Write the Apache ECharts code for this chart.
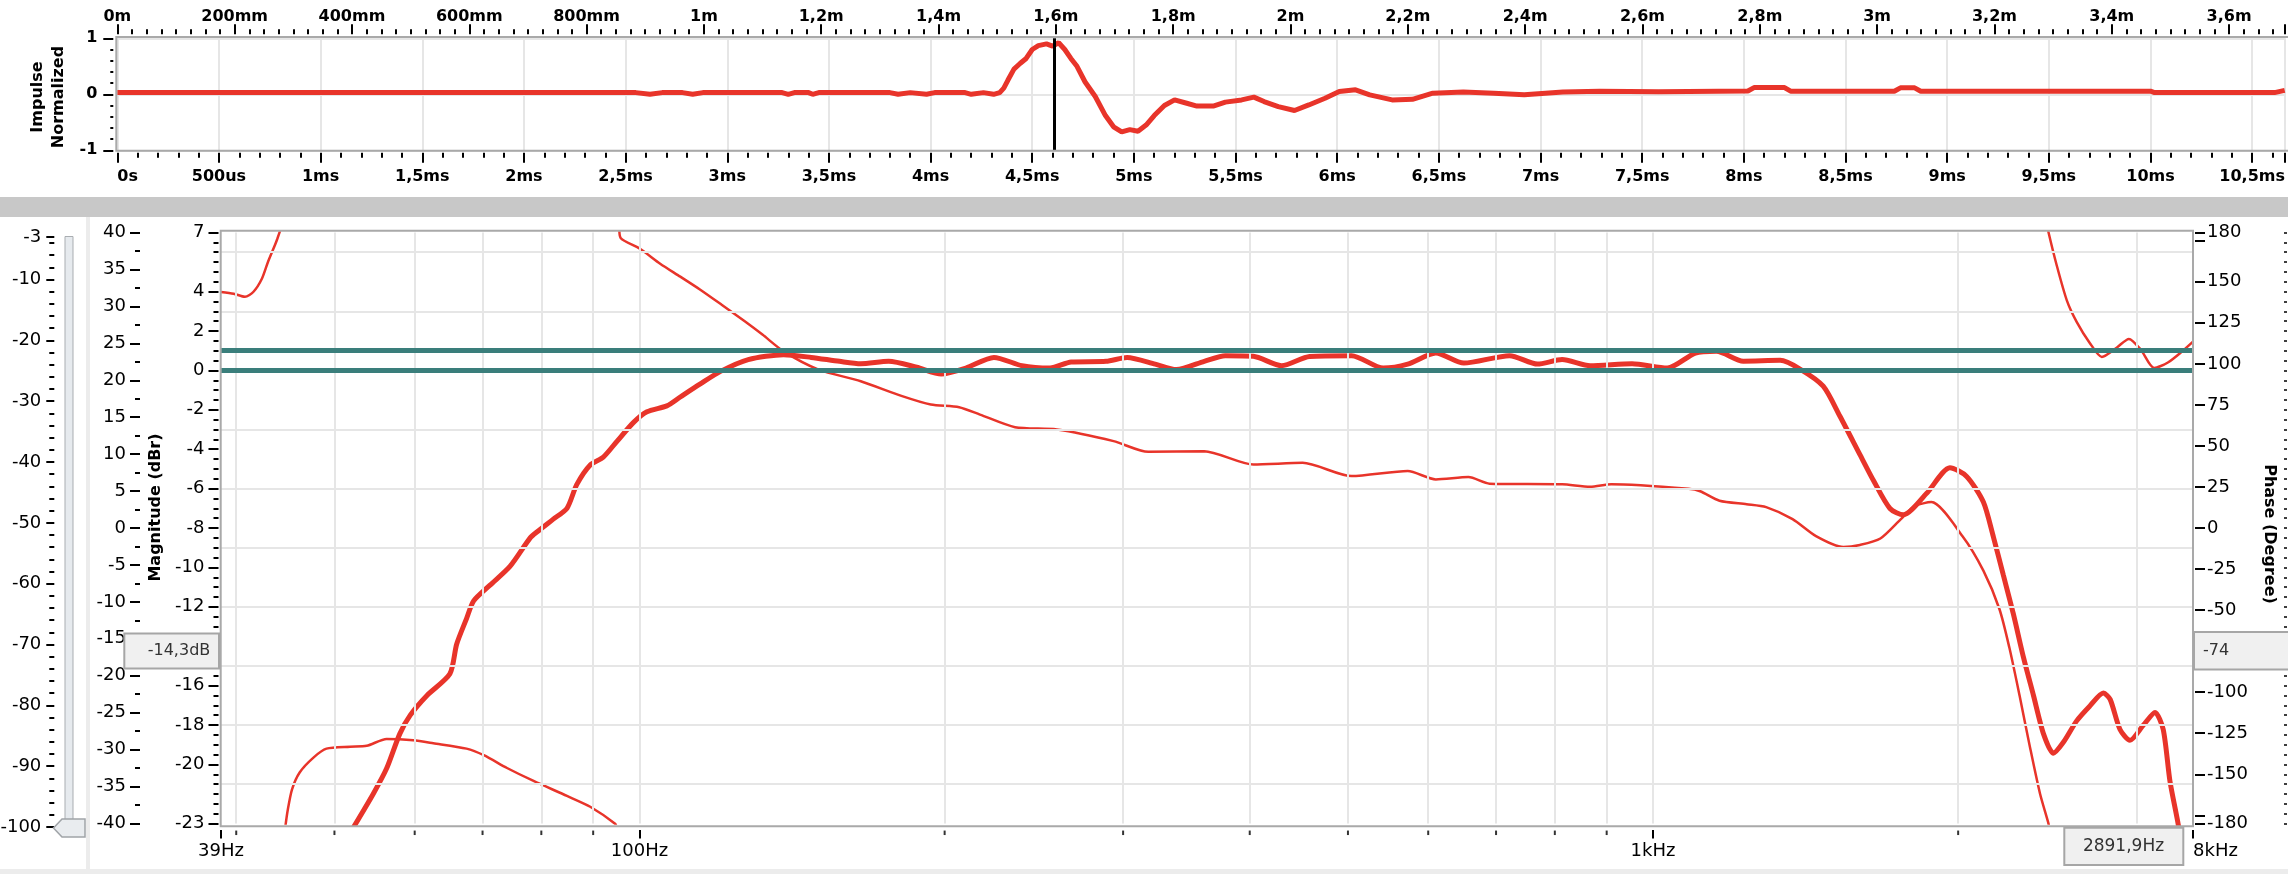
<!DOCTYPE html>
<html><head><meta charset="utf-8">
<script src="https://cdn.jsdelivr.net/npm/echarts@6/dist/echarts.min.js"></script>
<style>html,body{margin:0;padding:0;background:#fff;overflow:hidden}#c{width:2288px;height:874px}</style>
</head><body><div id="c"></div>
<script>
// ---------------- DATA ----------------
const timeMaxMs = 10.662;          // right edge of impulse view
const distMaxM = 3.6955;           // same edge expressed in metres
const markerTimeMs = 4.605;        // cursor at 1,6m

const impulseTimeMs = [
  0, 0.6, 1.2, 1.8, 2.4, 2.55, 2.62, 2.68, 2.78, 2.83,
  2.88, 3.1, 3.27, 3.30, 3.33, 3.40, 3.42, 3.45, 3.8, 3.84,
  3.9, 3.98, 4.02, 4.17, 4.2, 4.26, 4.31, 4.34, 4.36, 4.38,
  4.41, 4.44, 4.47, 4.50, 4.53, 4.57, 4.60, 4.63, 4.66, 4.69,
  4.72, 4.76, 4.81, 4.86, 4.90, 4.94, 4.98, 5.02, 5.06, 5.10,
  5.15, 5.20, 5.26, 5.31, 5.39, 5.45, 5.53, 5.59, 5.64, 5.71,
  5.79, 5.86, 5.94, 6.01, 6.09, 6.16, 6.27, 6.37, 6.47, 6.62,
  6.77, 6.92, 7.11, 7.29, 7.58, 8.02, 8.05, 8.20, 8.23, 8.74,
  8.77, 8.84, 8.87, 10.0, 10.02, 10.61, 10.66
];
const impulseValue = [
  0.03, 0.03, 0.03, 0.03, 0.03, 0.03, 0.0, 0.03, 0.03, 0.0,
  0.03, 0.03, 0.03, 0.0, 0.03, 0.03, 0.0, 0.03, 0.03, 0.0,
  0.03, 0.0, 0.03, 0.03, 0.0, 0.03, 0.0, 0.03, 0.11, 0.25,
  0.45, 0.55, 0.64, 0.80, 0.87, 0.90, 0.86, 0.92, 0.80, 0.64,
  0.50, 0.22, -0.04, -0.38, -0.58, -0.67, -0.63, -0.66, -0.55, -0.38,
  -0.20, -0.10, -0.16, -0.21, -0.21, -0.14, -0.10, -0.05, -0.13, -0.22,
  -0.29, -0.19, -0.07, 0.05, 0.08, -0.01, -0.10, -0.09, 0.02, 0.04,
  0.02, -0.01, 0.04, 0.055, 0.045, 0.06, 0.12, 0.12, 0.055, 0.055,
  0.115, 0.115, 0.055, 0.055, 0.03, 0.03, 0.07
];

const freqMinHz = 38.64;
const freqMaxHz = 3410;
const freqLabelValues = [38.64, 100, 1000, 3410];
const freqLabelText = ['39Hz', '100Hz', '1kHz', '8kHz'];
const freqMinorTicks = [40, 50, 60, 70, 80, 90, 200, 300, 400, 500, 600, 700, 800, 900, 2000, 3000];
const freqGridLines = [40, 50, 60, 70, 80, 90, 100, 200, 300, 400, 500, 600, 700, 800, 900, 1000, 2000, 3000];
const magGridLines = [6, 3, 0, -3, -6, -9, -12, -15, -18, -21];
const magTickValues = [7, 4, 2, 0, -2, -4, -6, -8, -10, -12, -14, -16, -18, -20, -23];
const phaseLabelValues = [180, 150, 125, 100, 75, 50, 25, 0, -25, -50, -75, -100, -125, -150, -180];
const phaseTickValues = [180, 175, 150, 125, 100, 75, 50, 25, 0, -25, -50, -75, -100, -125, -150, -175, -180];
const toleranceDb = [0, 1];

const magFreqHz = [
  52.2, 54.6, 56.3, 58.0, 59.4, 61.7, 65.0, 66.0, 67.5, 68.6,
  71.2, 74.5, 78.0, 79.2, 82.2, 84.8, 86.7, 89.4, 92.1, 95.0,
  98.6, 101.7, 106.4, 109.7, 114.7, 120.2, 128.0, 138.7, 147.7, 157.5,
  165.3, 176.1, 187.7, 198.5, 209.9, 223.7, 238.4, 254.1, 266.6, 288.6,
  302.7, 322.7, 338.5, 360.7, 378.4, 403.3, 430.0, 458.3, 504.2, 541.7,
  572.7, 610.5, 650.6, 721.8, 769.1, 813.3, 866.9, 953.4, 1032.8, 1100.7,
  1154.7, 1227.5, 1334.8, 1396.4, 1472, 1529, 1600.5, 1650, 1713, 1766,
  1862, 1963, 2039, 2118, 2166, 2216, 2267, 2319, 2373, 2428,
  2483, 2540, 2618, 2698, 2782, 2825, 2889, 2955, 3046, 3128,
  3187, 3236, 3297, 3330
];
const magDb = [
  -23.2, -21.5, -20.2, -18.45, -17.5, -16.5, -15.4, -13.9, -12.6, -11.7,
  -10.9, -9.95, -8.5, -8.2, -7.55, -7.0, -5.8, -4.8, -4.4, -3.6,
  -2.65, -2.1, -1.8, -1.35, -0.7, -0.05, 0.55, 0.8, 0.66, 0.46,
  0.34, 0.46, 0.16, -0.18, 0.12, 0.66, 0.24, 0.12, 0.43, 0.46,
  0.66, 0.32, 0.04, 0.46, 0.75, 0.72, 0.24, 0.71, 0.75, 0.12,
  0.32, 0.88, 0.37, 0.75, 0.32, 0.55, 0.24, 0.34, 0.12, 0.88,
  0.97, 0.47, 0.51, 0.07, -0.8, -2.33, -4.29, -5.59, -7.01, -7.33,
  -6.24, -4.94, -5.38, -6.68, -8.42, -10.38, -12.35, -14.53, -16.49, -18.45,
  -19.43, -18.88, -17.79, -17.03, -16.38, -16.7, -18.23, -18.78, -18.01, -17.36,
  -18.23, -20.85, -23.03, -24.5
];

// phase, split where it wraps at +/-180
const phaseLowFreqHz = [38.64, 39.77, 40.8, 41.6, 42.4, 43.0, 43.7, 43.9, 44.3];
const phaseLowDeg = [143.8, 142.7, 140.8, 143.9, 151.8, 162.2, 172.7, 175.9, 183];
const phaseMidFreqHz = [44.7, 44.95, 45.4, 46.2, 47.7, 49.1, 51.8, 53.8, 56.3, 59.8, 62.6, 67.5, 70.2, 74.0, 78.6, 84.8, 89.4, 94.6, 95.0];
const phaseMidDeg = [-183, -172.4, -159.3, -148.9, -139.7, -134.4, -133.2, -132.7, -128.5, -129.3, -131.1, -134.4, -138.4, -146.2, -154.1, -163.2, -169.8, -180.2, -183];
const phaseMainFreqHz = [
  95.5, 95.8, 100.1, 104.8, 109.7, 114.7, 120.5, 127.0, 132.2, 138.7,
  150.2, 165.3, 181.6, 193.8, 206.7, 216.7, 234.7, 258.0, 293.6, 317.7,
  360.7, 403.3, 451.1, 504.2, 572.7, 610.5, 657.4, 689.8, 813.3, 866.9,
  909.6, 1084, 1113, 1163, 1237, 1293, 1373, 1448, 1541, 1600,
  1676, 1756, 1812, 1882, 2020, 2118, 2197, 2247, 2299, 2354,
  2409, 2456, 2462
];
const phaseMainDeg = [
  183, 176.7, 170.1, 161.0, 153.1, 145.3, 136.0, 125.9, 117.8, 107.6,
  96.5, 89.4, 80.3, 75.2, 73.6, 69.1, 61.4, 60.0, 52.9, 46.4,
  46.8, 38.7, 39.7, 31.6, 34.7, 29.6, 31.0, 27.0, 26.6, 25.1,
  26.6, 23.9, 22.4, 16.6, 14.5, 12.7, 5.4, -5.0, -11.6, -10.3,
  -6.4, 5.4, 13.3, 15.8, -5.0, -26.0, -49.5, -73.0, -101.8, -133.2,
  -161.9, -180.2, -184
];
const phaseHighFreqHz = [2450, 2456, 2503, 2560, 2618, 2698, 2772, 2869, 2948, 3028, 3122, 3221, 3323, 3410];
const phaseHighDeg = [184, 180, 159.6, 138.7, 125.6, 112.6, 104.2, 110, 115.2, 108.7, 97.4, 100.8, 107.3, 113.5];

const sliderMin = -100, sliderMax = -3;
const readoutMag = '-14,3dB';
const readoutPhase = '-74';
const readoutFreq = '2891,9Hz';

// ---------------- STYLE ----------------
const FONT = 'DejaVu Sans';
const RED = '#e8342a';
const TEAL = '#3a7e7b';
const GRIDC = '#e6e6e6';
const FRAME = '#a9a9a9';
const TICK = { color: '#000', width: 2 };

const pairs = (xs, ys) => xs.map((x, i) => [x, ys[i]]);
const lab = extra => Object.assign({ color: '#000', fontFamily: FONT, fontSize: 18 }, extra || {});

const fmtTime = v => {
  const r = Math.round(v * 10) / 10;
  if (Math.abs(v - r) > 1e-6) return '';
  if (r === 0) return '0s';
  if (r < 1) return Math.round(r * 1000) + 'us';
  return String(r).replace('.', ',') + 'ms';
};
const fmtDist = v => {
  const mm = Math.round(v * 1000);
  if (Math.abs(v * 1000 - mm) > 0.01) return '';
  if (mm === 0) return '0m';
  if (mm < 1000) return mm + 'mm';
  return String(mm / 1000).replace('.', ',') + 'm';
};
const fmtFreq = v => {
  for (let i = 0; i < freqLabelValues.length; i++) {
    if (Math.abs(Math.log10(v) - Math.log10(freqLabelValues[i])) < 0.003) return freqLabelText[i];
  }
  return '';
};

const chart = echarts.init(document.getElementById('c'), null, { renderer: 'canvas' });

const hiddenMark = (data, style, z) => ({
  type: 'line', data: [], z: z, silent: true,
  markLine: { silent: true, symbol: ['none', 'none'], label: { show: false }, emphasis: { disabled: true },
    lineStyle: style, data: data, animation: false }
});

const option = {
  animation: false,
  backgroundColor: '#ffffff',
  textStyle: { fontFamily: FONT, color: '#000' },
  grid: [
    { left: 117.3, right: -10, top: 38.3, height: 112, show: false },
    { left: 221, right: 95, top: 232.5, height: 591, show: false },
    { left: 53.3, width: 1, top: 237, height: 590, show: false }
  ],
  xAxis: [
    { // time (ms)
      gridIndex: 0, type: 'value', position: 'bottom', min: 0, max: timeMaxMs, interval: 0.5, offset: 2.5,
      axisLine: { show: false, onZero: false },
      axisTick: { show: true, length: 10, lineStyle: TICK },
      minorTick: { show: true, splitNumber: 5, length: 5, lineStyle: TICK },
      splitLine: { show: true, lineStyle: { color: GRIDC, width: 2 } },
      axisLabel: lab({ formatter: fmtTime, margin: 16, fontSize: 16, fontWeight: 'bold', showMaxLabel: false, alignMinLabel: 'left' })
    },
    { // distance (m)
      gridIndex: 0, type: 'value', position: 'top', min: 0, max: distMaxM, interval: 0.2, offset: 4,
      axisLine: { show: false, onZero: false },
      axisTick: { show: true, length: 10, lineStyle: TICK },
      minorTick: { show: true, splitNumber: 8, length: 5, lineStyle: TICK },
      splitLine: { show: false },
      axisLabel: lab({ formatter: fmtDist, margin: 9, fontSize: 16, fontWeight: 'bold', showMaxLabel: false })
    },
    { // frequency
      gridIndex: 1, type: 'log', logBase: 10, min: freqMinHz, max: freqMaxHz, position: 'bottom', offset: 6.5,
      axisLine: { show: false, onZero: false },
      axisTick: { show: true, length: 8.5, lineStyle: TICK },
      minorTick: { show: false },
      splitLine: { show: false },
      axisLabel: lab({ formatter: fmtFreq, margin: 12, showMinLabel: true, showMaxLabel: true, alignMaxLabel: 'left' })
    },
    { gridIndex: 2, type: 'value', min: 0, max: 1, show: false }
  ],
  yAxis: [
    { // 0 impulse
      gridIndex: 0, type: 'value', min: -1, max: 1, interval: 1, position: 'left', offset: 4,
      axisLine: { show: false, onZero: false },
      axisTick: { show: true, length: 10, lineStyle: TICK },
      minorTick: { show: true, splitNumber: 5, length: 3, lineStyle: TICK },
      splitLine: { show: true, lineStyle: { color: GRIDC, width: 2 } },
      axisLabel: lab({ margin: 16, fontSize: 16, fontWeight: 'bold' })
    },
    { // 1 magnitude (labels + major ticks)
      gridIndex: 1, type: 'value', min: -23, max: 7, position: 'left', offset: 2.5,
      axisLine: { show: false, onZero: false },
      axisTick: { show: true, length: 10, lineStyle: TICK, customValues: magTickValues },
      splitLine: { show: false },
      axisLabel: lab({ margin: 14, customValues: magTickValues })
    },
    { // 2 magnitude minor ticks
      gridIndex: 1, type: 'value', min: -23, max: 7, interval: 0.5, position: 'left', offset: 2.5,
      axisLine: { show: false, onZero: false },
      axisTick: { show: true, length: 5, lineStyle: TICK },
      splitLine: { show: false }, axisLabel: { show: false }
    },
    { // 3 phase
      gridIndex: 1, type: 'value', min: -180, max: 180, position: 'right', offset: 2,
      axisLine: { show: false, onZero: false },
      axisTick: { show: true, length: 10, lineStyle: TICK, customValues: phaseTickValues },
      splitLine: { show: false },
      axisLabel: lab({ margin: 12, customValues: phaseLabelValues })
    },
    { // 4 far right dotted scale
      gridIndex: 1, type: 'value', min: -23, max: 7, interval: 0.5, position: 'right', offset: 91,
      axisLine: { show: false, onZero: false },
      axisTick: { show: true, length: 3, lineStyle: { color: '#000', width: 1.5 } },
      splitLine: { show: false }, axisLabel: { show: false }
    },
    { // 5 outer dB scale
      gridIndex: 1, type: 'value', min: -40, max: 40, interval: 5, position: 'left', offset: 81,
      axisLine: { show: false, onZero: false },
      axisTick: { show: true, length: 10, lineStyle: TICK },
      minorTick: { show: true, splitNumber: 2, length: 5, lineStyle: TICK },
      splitLine: { show: false },
      axisLabel: lab({ margin: 14 })
    },
    { // 6 slider scale
      gridIndex: 2, type: 'value', min: sliderMin, max: sliderMax, interval: 10, position: 'left',
      axisLine: { show: false, onZero: false },
      axisTick: { show: true, length: 8, lineStyle: TICK },
      minorTick: { show: true, splitNumber: 5, length: 5, lineStyle: TICK },
      splitLine: { show: false },
      axisLabel: lab({ margin: 13, showMaxLabel: true, showMinLabel: true })
    }
  ],
  series: [
    Object.assign(hiddenMark(freqGridLines.map(f => ({ xAxis: f })).concat(magGridLines.map(m => ({ yAxis: m }))),
      { color: GRIDC, width: 2, type: 'solid' }, 1), { xAxisIndex: 2, yAxisIndex: 1 }),
    Object.assign(hiddenMark(toleranceDb.map(v => ({ yAxis: v })), { color: TEAL, width: 5, type: 'solid' }, 2),
      { xAxisIndex: 2, yAxisIndex: 1 }),
    {
      type: 'line', xAxisIndex: 0, yAxisIndex: 0, data: pairs(impulseTimeMs, impulseValue),
      symbol: 'none', lineStyle: { color: RED, width: 5 }, z: 3, silent: true
    },
    Object.assign(hiddenMark([{ xAxis: markerTimeMs }], { color: '#000', width: 3, type: 'solid' }, 6),
      { xAxisIndex: 0, yAxisIndex: 0 }),
    {
      type: 'line', xAxisIndex: 2, yAxisIndex: 1, data: pairs(magFreqHz, magDb), smooth: 0.25,
      symbol: 'none', lineStyle: { color: RED, width: 5 }, z: 4, silent: true
    },
    ...[[phaseLowFreqHz, phaseLowDeg], [phaseMidFreqHz, phaseMidDeg], [phaseMainFreqHz, phaseMainDeg], [phaseHighFreqHz, phaseHighDeg]]
      .map(([f, p]) => ({
        type: 'line', xAxisIndex: 2, yAxisIndex: 3, data: pairs(f, p), smooth: 0.25,
        symbol: 'none', lineStyle: { color: RED, width: 2.5 }, z: 4, silent: true
      })),
    {
      type: 'scatter', xAxisIndex: 2, yAxisIndex: 1, data: freqMinorTicks.map(f => [f, -23]),
      symbol: 'rect', symbolSize: [2, 4.5], symbolOffset: [0, 9.3], clip: false,
      itemStyle: { color: '#000' }, silent: true, z: 5
    }
  ],
  graphic: {
    elements: [
      { type: 'rect', shape: { x: 0, y: 197, width: 2288, height: 20 }, style: { fill: '#c8c8c8' }, z: 0, silent: true },
      { type: 'rect', shape: { x: 86, y: 217, width: 4, height: 652 }, style: { fill: '#ececec' }, z: 0, silent: true },
      { type: 'rect', shape: { x: 0, y: 869, width: 2288, height: 5 }, style: { fill: '#ececec' }, z: 0, silent: true },
      { type: 'rect', shape: { x: 116.3, y: 37, width: 2200, height: 113.7 }, style: { fill: 'none', stroke: FRAME, lineWidth: 2 }, z: 10, silent: true },
      { type: 'rect', shape: { x: 220.7, y: 230.7, width: 1972.3, height: 595.5 }, style: { fill: 'none', stroke: FRAME, lineWidth: 2 }, z: 10, silent: true },
      // slider
      { type: 'rect', shape: { x: 65, y: 236.5, width: 8, height: 583 }, style: { fill: '#e6eaee', stroke: '#a9adb1', lineWidth: 1 }, z: 10, silent: true },
      { type: 'polygon', shape: { points: [[53.5, 828], [62, 819], [85, 819], [85, 837], [62, 837]] }, style: { fill: '#e9ecef', stroke: '#a0a4a8', lineWidth: 1.5 }, z: 11, silent: true },
      // readout boxes
      { type: 'rect', shape: { x: 124.3, y: 633.4, width: 94.7, height: 35.2 }, style: { fill: '#f0f0f0', stroke: '#a6a6a6', lineWidth: 2 }, z: 100, silent: true },
      { type: 'text', x: 179, y: 651, style: { text: readoutMag, font: '16px "DejaVu Sans"', fill: '#333', align: 'center', verticalAlign: 'middle', textAlign: 'center', textVerticalAlign: 'middle' }, z: 101, silent: true },
      { type: 'rect', shape: { x: 2194, y: 632, width: 98, height: 37.5 }, style: { fill: '#f0f0f0', stroke: '#a6a6a6', lineWidth: 2 }, z: 100, silent: true },
      { type: 'text', x: 2203, y: 651, style: { text: readoutPhase, font: '16px "DejaVu Sans"', fill: '#333', align: 'left', verticalAlign: 'middle', textAlign: 'left', textVerticalAlign: 'middle' }, z: 101, silent: true },
      { type: 'rect', shape: { x: 2064.3, y: 827.7, width: 119, height: 37.3 }, style: { fill: '#f0f0f0', stroke: '#a6a6a6', lineWidth: 2 }, z: 100, silent: true },
      { type: 'text', x: 2123.5, y: 846.5, style: { text: readoutFreq, font: '17px "DejaVu Sans"', fill: '#333', align: 'center', verticalAlign: 'middle', textAlign: 'center', textVerticalAlign: 'middle' }, z: 101, silent: true },
      // axis titles
      { type: 'text', x: 48, y: 97, rotation: Math.PI / 2, style: { text: 'Impulse\nNormalized', font: 'bold 16px "DejaVu Sans"', lineHeight: 21, fill: '#000', align: 'center', verticalAlign: 'middle', textAlign: 'center', textVerticalAlign: 'middle' }, z: 20, silent: true },
      { type: 'text', x: 155.5, y: 507.5, rotation: Math.PI / 2, style: { text: 'Magnitude (dBr)', font: 'bold 16px "DejaVu Sans"', fill: '#000', align: 'center', verticalAlign: 'middle', textAlign: 'center', textVerticalAlign: 'middle' }, z: 20, silent: true },
      { type: 'text', x: 2269, y: 534, rotation: -Math.PI / 2, style: { text: 'Phase (Degree)', font: 'bold 16px "DejaVu Sans"', fill: '#000', align: 'center', verticalAlign: 'middle', textAlign: 'center', textVerticalAlign: 'middle' }, z: 20, silent: true }
    ]
  }
};
chart.setOption(option);
</script></body></html>
